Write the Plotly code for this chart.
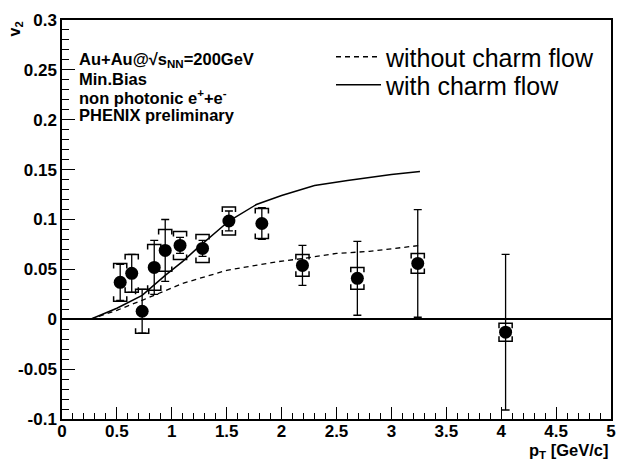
import numpy as np
import plotly.graph_objects as go

# data points (PHENIX preliminary, non-photonic e+e- v2)
pt = [0.53, 0.635, 0.73, 0.84, 0.94, 1.075, 1.28, 1.52, 1.82, 2.19, 2.69, 3.24, 4.04]
v2 = [0.037, 0.046, 0.008, 0.052, 0.069, 0.074, 0.071, 0.0985, 0.096, 0.054, 0.041, 0.056, -0.013]
stat = [0.018, 0.019, 0.022, 0.027, 0.031, 0.008, 0.008, 0.010, 0.016, 0.020, 0.037, 0.054, 0.078]
sys = [0.019, 0.019, 0.022, 0.023, 0.021, 0.014, 0.014, 0.014, 0.015, 0.011, 0.011, 0.010, 0.009]

# model curves
with_x = [0.26, 0.5, 0.73, 0.94, 1.1, 1.23, 1.52, 1.77, 2.0, 2.3, 2.6, 3.0, 3.26]
with_y = [0.0, 0.011, 0.024, 0.044, 0.058, 0.071, 0.0985, 0.115, 0.124, 0.134, 0.139, 0.145, 0.148]
without_x = [0.26, 0.5, 0.73, 1.1, 1.5, 1.95, 2.2, 2.5, 2.8, 3.26]
without_y = [0.0, 0.009, 0.019, 0.036, 0.049, 0.0575, 0.061, 0.066, 0.068, 0.074]

yticks = [-0.1, -0.05, 0, 0.05, 0.1, 0.15, 0.2, 0.25, 0.3]
ytick_labels = ["-0.1", "-0.05", "0", "0.05", "0.1", "0.15", "0.2", "0.25", "0.3"]
xticks = [0, 0.5, 1, 1.5, 2, 2.5, 3, 3.5, 4, 4.5, 5]
xtick_labels = ["0", "0.5", "1", "1.5", "2", "2.5", "3", "3.5", "4", "4.5", "5"]

FONT = "Liberation Sans, Arial, sans-serif"


def py2paper(p):
    return (419 - p) / 399.0


def px2paper(p):
    return (p - 62) / 549.0


# systematic brackets built from data
bw, bd = 0.06, 0.005
bx, by = [], []
for x, y, s in zip(pt, v2, sys):
    top, bot = y + s, y - s
    bx += [x - bw, x - bw, x + bw, x + bw, None, x - bw, x - bw, x + bw, x + bw, None]
    by += [top - bd, top, top, top - bd, None, bot + bd, bot, bot, bot + bd, None]

fig = go.Figure()
fig.add_trace(go.Scatter(x=bx, y=by, mode="lines", line=dict(color="black", width=1.5),
                         showlegend=False, hoverinfo="skip"))
fig.add_trace(go.Scatter(x=without_x, y=without_y, mode="lines", name="without charm flow",
                         legend="legend",
                         line=dict(color="black", width=1.3, dash="5px,4px")))
fig.add_trace(go.Scatter(x=with_x, y=with_y, mode="lines", name="with charm flow",
                         legend="legend2",
                         line=dict(color="black", width=1.5)))
fig.add_trace(go.Scatter(x=pt, y=v2, mode="markers", showlegend=False,
                         marker=dict(color="black", size=13, symbol="circle"),
                         error_y=dict(type="data", array=stat, visible=True,
                                      color="black", thickness=1.3, width=4)))

leg_common = dict(xanchor="left", yanchor="middle",
                  font=dict(size=25, family=FONT), bgcolor="rgba(0,0,0,0)",
                  itemwidth=45)

fig.update_layout(
    width=629, height=462,
    margin=dict(l=62, r=18, t=20, b=43),
    paper_bgcolor="white", plot_bgcolor="white",
    font=dict(family=FONT, color="black"),
    legend=dict(x=px2paper(331), y=py2paper(57), **leg_common),
    legend2=dict(x=px2paper(331), y=py2paper(85), **leg_common),
    xaxis=dict(range=[0, 5], showgrid=False, zeroline=False,
               showline=True, linecolor="black", linewidth=1.5, mirror=True,
               ticks="inside", ticklen=12, tickwidth=1.3, tickcolor="black",
               tickvals=xticks, ticktext=xtick_labels, ticklabelstandoff=-4,
               tickfont=dict(size=17, family=FONT, weight="bold"),
               minor=dict(dtick=0.1, ticks="inside", ticklen=6, tickcolor="black", tickwidth=1.2)),
    yaxis=dict(range=[-0.1, 0.3], showgrid=False, zeroline=True, zerolinecolor="black",
               zerolinewidth=1.5,
               showline=True, linecolor="black", linewidth=1.5, mirror=True,
               ticks="inside", ticklen=13, tickwidth=1.3, tickcolor="black",
               tickvals=yticks, ticktext=ytick_labels,
               tickfont=dict(size=17, family=FONT, weight="bold"),
               minor=dict(dtick=0.01, ticks="inside", ticklen=7, tickcolor="black", tickwidth=1.2)),
)

info_lines = ["Au+Au@√s<sub>NN</sub>=200GeV", "Min.Bias",
              "non photonic e<sup>+</sup>+e<sup>-</sup>", "PHENIX preliminary"]
info_y = [60, 79, 97, 115]
for t, yy in zip(info_lines, info_y):
    fig.add_annotation(text="<b>" + t + "</b>", xref="paper", yref="paper",
                       x=px2paper(77), y=py2paper(yy), xanchor="left", yanchor="middle",
                       showarrow=False, font=dict(size=16.5, family=FONT))

fig.add_annotation(text="<b>p<sub>T</sub> [GeV/c]</b>", xref="paper", yref="paper",
                   x=1.0, y=py2paper(451), xanchor="right", yanchor="middle",
                   showarrow=False, font=dict(size=16.5, family=FONT))
fig.add_annotation(text="<b>v<sub>2</sub></b>", xref="paper", yref="paper",
                   x=px2paper(15), y=1.0, xanchor="center", yanchor="top", textangle=-90,
                   showarrow=False, font=dict(size=16, family=FONT))

fig.write_html("out.html")
